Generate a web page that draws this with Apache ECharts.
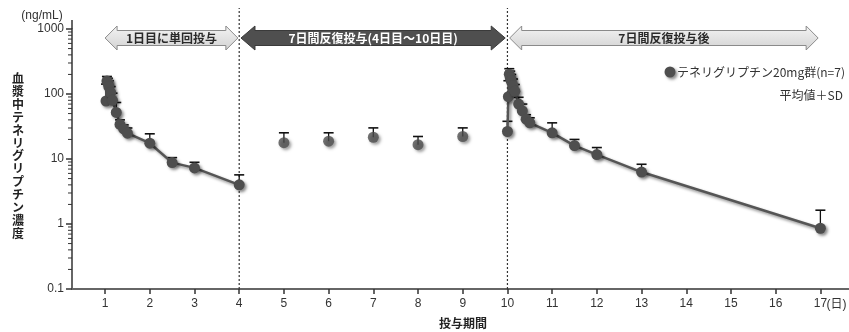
<!DOCTYPE html>
<html><head><meta charset="utf-8">
<script src="https://cdn.jsdelivr.net/npm/echarts@6/dist/echarts.min.js"></script>
<style>html,body{margin:0;padding:0;background:#fff}#c{width:849px;height:332px}</style>
</head><body><div id="c"></div>
<script>
const FONT = '"Noto Sans CJK JP", "Liberation Sans", sans-serif';

// ---- data ----
const xTicks = [1,2,3,4,5,6,7,8,9,10,11,12,13,14,15,16,17];
const yTicks = [0.1,1,10,100,1000];
const yMinorTicks = [0.2,0.3,0.4,0.5,0.6,0.7,0.8,0.9,2,3,4,5,6,7,8,9,20,30,40,50,60,70,80,90,200,300,400,500,600,700,800,900];

// Day 1 single dose: hours after dosing, mean, mean+SD
const hours1 = [0.5,1,1.5,2,3,4,6,8,10,12,24,36,48,72];
const mean1  = [78,158,150,130,105,80,52,34,29,25,17.5,8.8,7.3,4.0];
const upper1 = [142,186,175,160,130,103,74,40,33.5,30,24.4,10.5,8.9,5.7];

// Trough values during repeated dosing (days 5-9)
const troughDays  = [5,6,7,8,9];
const troughMean  = [17.8,18.8,21.6,16.6,22.2];
const troughUpper = [25.3,25.3,30.1,22.2,30.1];

// Day 10 (last dose): hours after dosing, mean, mean+SD
const hours10 = [0,0.5,1,1.5,2,3,4,6,8,10,12,24,36,48,72,168];
const mean10  = [26.5,91,202,180,160,134,110,70,55,41,36,25.3,16.1,11.7,6.3,0.86];
const upper10 = [38,160,245,225,200,170,140,89,70,48,43,36,20,15,8.3,1.63];

const doseLines = [4,10];
const phaseLabels = ['1日目に単回投与','7日間反復投与(4日目〜10日目)','7日間反復投与後'];
const phaseFrom = [1.0, 4.04, 10.05];
const phaseTo   = [3.97, 9.95, 16.95];

// ---- build ----
const pts1 = hours1.map((h,i)=>[1+h/24, mean1[i]]);
const err1 = hours1.map((h,i)=>[1+h/24, mean1[i], upper1[i]]);
const ptsT = troughDays.map((d,i)=>[d, troughMean[i]]);
const errT = troughDays.map((d,i)=>[d, troughMean[i], troughUpper[i]]);
const pts10 = hours10.map((h,i)=>[10+h/24, mean10[i]]);
const err10 = hours10.map((h,i)=>[10+h/24, mean10[i], upper10[i]]);

const shadow = {shadowBlur:3, shadowOffsetX:2, shadowOffsetY:2, shadowColor:'rgba(0,0,0,0.45)'};
const markerStyle = Object.assign({color:'#4e4e4e'}, shadow);
const lineStyle = Object.assign({color:'#555', width:2.5}, shadow);

function errRender(params, api){
  const x = api.value(0), m = api.value(1), u = api.value(2);
  const p0 = api.coord([x,m]), p1 = api.coord([x,u]);
  return {type:'group', children:[
    {type:'line', shape:{x1:p0[0],y1:p0[1],x2:p1[0],y2:p1[1]}, style:{stroke:'#111',lineWidth:1.3}},
    {type:'line', shape:{x1:p1[0]-5,y1:p1[1],x2:p1[0]+5,y2:p1[1]}, style:{stroke:'#111',lineWidth:1.6}}
  ]};
}
function minorTickRender(params, api){
  const p = api.coord([0.26, api.value(0)]);
  return {type:'line', shape:{x1:p[0]-4,y1:p[1],x2:p[0],y2:p[1]}, style:{stroke:'#333',lineWidth:1}};
}
function doseLineRender(params, api){
  const p = api.coord([api.value(0), 0.1]);
  return {type:'line', shape:{x1:p[0],y1:p[1],x2:p[0],y2:8}, style:{stroke:'#333',lineWidth:1.2,lineDash:[2,2]}};
}

const chart = echarts.init(document.getElementById('c'), null, {renderer:'canvas'});
chart.setOption({
  animation:false,
  textStyle:{fontFamily:FONT},
  grid:{left:72, right:0, top:29, bottom:43, containLabel:false},
  xAxis:{type:'value', min:0.26, max:17.64,
    axisLine:{lineStyle:{color:'#666', width:2}},
    axisTick:{customValues:xTicks, length:5, lineStyle:{color:'#333', width:1.5}},
    axisLabel:{customValues:xTicks, fontSize:12, color:'#333', margin:9, fontFamily:'"Liberation Sans", sans-serif'},
    splitLine:{show:false}},
  yAxis:{type:'log', logBase:10, min:0.1, max:1000, interval:1,
    axisLine:{show:true, lineStyle:{color:'#333', width:1.5}},
    axisTick:{show:true, length:6, lineStyle:{color:'#333', width:1.5}},
    axisLabel:{fontSize:12, color:'#333', margin:8, fontFamily:'"Liberation Sans", sans-serif',
      formatter:v=>String(v)},
    splitLine:{show:false}},
  series:[
    {type:'custom', renderItem:doseLineRender, data:doseLines.map(d=>[d]), encode:{x:0}, clip:false, z:1, silent:true},
    {type:'custom', renderItem:minorTickRender, data:yMinorTicks.map(v=>[v]), encode:{y:0}, clip:false, z:1, silent:true},
    {type:'custom', renderItem:errRender, data:err1, encode:{x:0,y:[1,2]}, z:2},
    {type:'custom', renderItem:errRender, data:errT, encode:{x:0,y:[1,2]}, z:2},
    {type:'custom', renderItem:errRender, data:err10, encode:{x:0,y:[1,2]}, z:2},
    {type:'line', data:pts1, symbol:'circle', symbolSize:11, itemStyle:markerStyle, lineStyle:lineStyle, z:3},
    {type:'scatter', data:ptsT, symbol:'circle', symbolSize:11, itemStyle:markerStyle, z:3},
    {type:'line', data:pts10, symbol:'circle', symbolSize:11, itemStyle:markerStyle, lineStyle:lineStyle, z:3}
  ]
});

// annotations
const cy = 38;
function arrowPts(xl, xr, headL){
  return [[xl,cy],[xl+headL,cy-12],[xl+headL,cy-7.5],[xr-headL,cy-7.5],[xr-headL,cy-12],[xr,cy],
          [xr-headL,cy+12],[xr-headL,cy+7.5],[xl+headL,cy+7.5],[xl+headL,cy+12]];
}
const lightFill = new echarts.graphic.LinearGradient(0,0,0,1,[{offset:0,color:'#f4f4f4'},{offset:1,color:'#d2d2d2'}]);
const graphics = [];
phaseLabels.forEach((lab,i)=>{
  const xl = chart.convertToPixel({xAxisIndex:0}, phaseFrom[i]);
  const xr = chart.convertToPixel({xAxisIndex:0}, phaseTo[i]);
  const dark = i===1;
  graphics.push({type:'polygon', shape:{points:arrowPts(xl,xr,dark?14:12)},
    style:dark?{fill:'#4f4f4f', stroke:'#3a3a3a', lineWidth:1}:{fill:lightFill, stroke:'#8a8a8a', lineWidth:1}});
  graphics.push({type:'text', x:(xl+xr)/2, y:cy+0.5, style:{text:lab, fill:dark?'#fff':'#2a2a2a',
    font:'bold 12px '+FONT, align:'center', verticalAlign:'middle'}});
});
// y-axis extension above 1000
const xAxisLeft = chart.convertToPixel({xAxisIndex:0}, 0.26);
const y1000 = chart.convertToPixel({yAxisIndex:0}, 1000);
graphics.push({type:'line', shape:{x1:xAxisLeft, y1:y1000, x2:xAxisLeft, y2:20}, style:{stroke:'#333', lineWidth:1.5}});
// y-axis unit & title
graphics.push({type:'text', x:42, y:16, style:{text:'(ng/mL)', fill:'#333', font:'12px "Liberation Sans", sans-serif', align:'center', verticalAlign:'middle'}});
graphics.push({type:'text', x:18, y:72, style:{text:'血漿中テネリグリプチン濃度'.split('').join('\n'), fill:'#222',
  font:'bold 12px '+FONT, align:'center', verticalAlign:'top', lineHeight:12.9}});
// x-axis name and unit
graphics.push({type:'text', x:463, y:323, style:{text:'投与期間', fill:'#222', font:'bold 12px '+FONT, align:'center', verticalAlign:'middle'}});
const x17 = chart.convertToPixel({xAxisIndex:0}, 17);
graphics.push({type:'text', x:x17+6, y:305, style:{text:'(日)', fill:'#333', font:'12px "Liberation Sans", "Noto Sans CJK JP", sans-serif', align:'left', verticalAlign:'middle'}});
// legend
graphics.push({type:'circle', shape:{cx:670, cy:72, r:5.5}, style:Object.assign({fill:'#4e4e4e'}, {shadowBlur:3, shadowOffsetX:2, shadowOffsetY:2, shadowColor:'rgba(0,0,0,0.45)'})});
graphics.push({type:'text', x:677, y:72, style:{text:'テネリグリプチン20mg群(n=7)', fill:'#333', font:'12px '+FONT, align:'left', verticalAlign:'middle'}});
graphics.push({type:'text', x:843, y:95, style:{text:'平均値＋SD', fill:'#333', font:'12px '+FONT, align:'right', verticalAlign:'middle'}});
chart.setOption({graphic:graphics});
</script>
</body></html>
